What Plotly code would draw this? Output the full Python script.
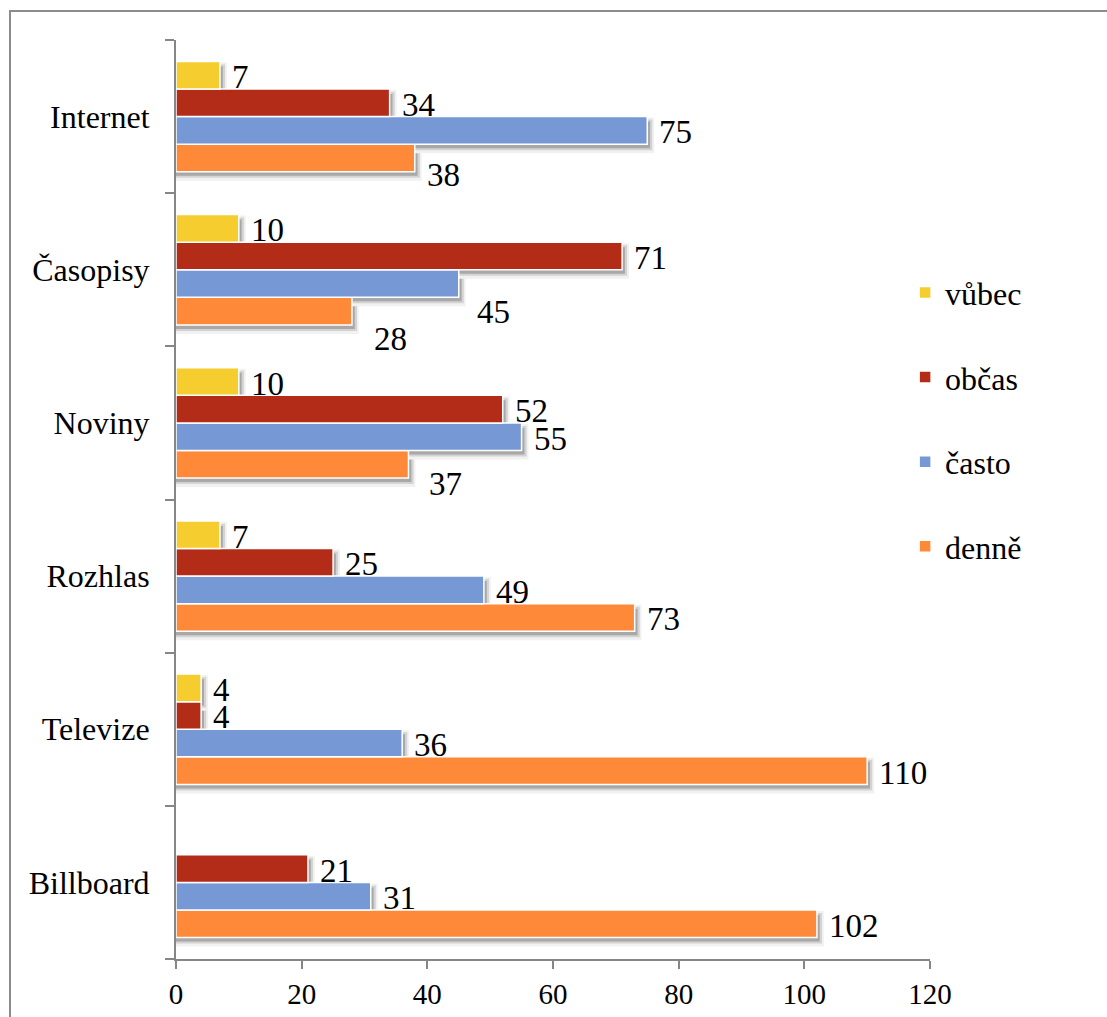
import plotly.graph_objects as go

# Media categories, bottom to top as drawn on the y axis
categories = ["Billboard", "Televize", "Rozhlas", "Noviny", "Časopisy", "Internet"]

# How often each medium is followed (count of respondents)
denne = [102, 110, 73, 37, 28, 38]
casto = [31, 36, 49, 55, 45, 75]
obcas = [21, 4, 25, 52, 71, 34]
vubec = [None, 4, 7, 10, 10, 7]

series_names = ["denně", "často", "občas", "vůbec"]
series_values = [denne, casto, obcas, vubec]
series_colors = ["#FE8938", "#7699D6", "#B22C18", "#F5CD2F"]

x_ticks = [0, 20, 40, 60, 80, 100, 120]

# Label nudges (pixels right, pixels down) for labels moved off their bar
label_nudge = {
    ("Internet", "denně"): (0, 15),
    ("Časopisy", "často"): (6, 26),
    ("Časopisy", "denně"): (10, 26),
    ("Noviny", "denně"): (9, 18),
}

FONT = "Liberation Serif, Times New Roman, serif"
BARGAP = 0.28
n_series = len(series_names)
slot = (1 - BARGAP) / n_series
slot_px = 919 / len(categories) * slot
half = slot_px / 2

fig = go.Figure()
shapes = []
annotations = []

for i, (name, vals, col) in enumerate(zip(series_names, series_values, series_colors)):
    fig.add_trace(go.Bar(
        y=categories, x=vals, name=name, orientation="h",
        marker=dict(color=col, line=dict(color="white", width=1.5)),
        legendgroup=name, legendrank=n_series - i, hoverinfo="x+name",
    ))
    offset = -(1 - BARGAP) / 2 + (i + 0.5) * slot
    for j, (cat, v) in enumerate(zip(categories, vals)):
        if v is None:
            continue
        yc = j + offset
        # soft drop shadow under each bar
        for extra_x, down, top, colr in [(1.1, 9, 1, "#F1F1F1"),
                                         (0.8, 6, 3, "#D3D3D3"),
                                         (0.45, 4, 5, "#A8A8A8")]:
            shapes.append(dict(
                type="rect", layer="below", xref="x", yref="y",
                x0=0, x1=v + extra_x, ysizemode="pixel", yanchor=yc,
                y0=-half - down, y1=half - top,
                fillcolor=colr, line=dict(width=0),
            ))
        dx, dy = label_nudge.get((cat, name), (0, 0))
        annotations.append(dict(
            x=v, y=yc, xref="x", yref="y", text=str(v), showarrow=False,
            xanchor="left", yanchor="middle", xshift=10 + dx, yshift=-2 - dy,
            font=dict(family=FONT, size=33, color="black"),
        ))

# outer chart frame
shapes.append(dict(
    type="rect", xref="paper", yref="paper",
    x0=(10 - 176) / 754, x1=1.3, y0=-0.2, y1=(959 - 11) / 919,
    line=dict(color="#8C8C8C", width=2), fillcolor="rgba(0,0,0,0)", layer="below",
))

fig.update_layout(
    width=1107, height=1017,
    margin=dict(l=176, r=177, t=40, b=58, autoexpand=False),
    paper_bgcolor="white", plot_bgcolor="white",
    barmode="group", bargap=BARGAP, bargroupgap=0,
    font=dict(family=FONT, size=32, color="black"),
    shapes=shapes, annotations=annotations,
    legend=dict(
        x=0.967, xanchor="left", y=0.755, yanchor="top",
        traceorder="grouped", tracegroupgap=40,
        font=dict(family=FONT, size=32, color="black"),
        bgcolor="rgba(0,0,0,0)",
    ),
    xaxis=dict(
        range=[0, 120], tickvals=x_ticks, ticks="outside", ticklen=8,
        tickcolor="#868686", tickwidth=2, showline=True, linecolor="#868686",
        linewidth=2, showgrid=False, zeroline=False, automargin=False,
        tickfont=dict(family=FONT, size=29), ticklabelstandoff=0,
    ),
    yaxis=dict(
        type="category", categoryorder="array", categoryarray=categories,
        ticks="outside", tickson="boundaries", ticklen=9, tickcolor="#868686",
        tickwidth=2, showline=True, linecolor="#868686", linewidth=2,
        showgrid=False, zeroline=False, automargin=False,
        tickfont=dict(family=FONT, size=32), ticklabelstandoff=18,
    ),
)

fig.write_html("out.html")
